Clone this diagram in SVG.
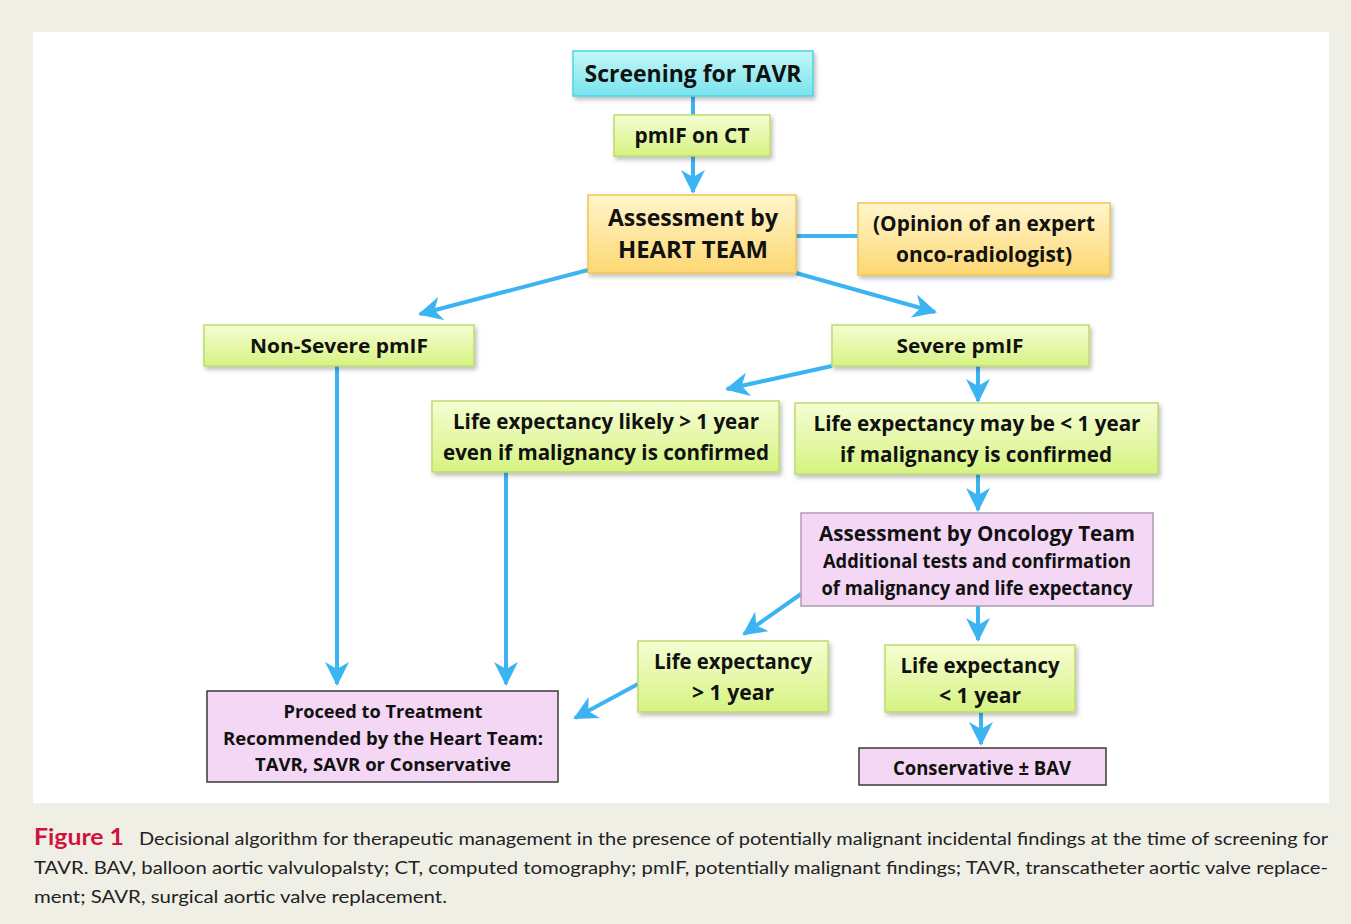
<svg xmlns="http://www.w3.org/2000/svg" width="1351" height="924" viewBox="0 0 1351 924">
<defs>
<linearGradient id="gCyan" x1="0" y1="0" x2="0" y2="1"><stop offset="0" stop-color="#c4f7f8"/><stop offset="1" stop-color="#78e3ec"/></linearGradient>
<linearGradient id="gGreen" x1="0" y1="0" x2="0" y2="1"><stop offset="0" stop-color="#f6fdd2"/><stop offset="1" stop-color="#d6f382"/></linearGradient>
<linearGradient id="gYellow" x1="0" y1="0" x2="0" y2="1"><stop offset="0" stop-color="#fff5cc"/><stop offset="1" stop-color="#fdd873"/></linearGradient>
<filter id="sh" x="-10%" y="-10%" width="125%" height="135%"><feDropShadow dx="2" dy="3" stdDeviation="2" flood-color="#000" flood-opacity="0.25"/></filter>
<marker id="ah" viewBox="0 0 12 12" refX="11" refY="6" markerWidth="6" markerHeight="6" orient="auto" markerUnits="strokeWidth"><path d="M0,0 L12,6 L0,12 L3.5,6 z" fill="#3db4f2"/></marker>
<style>
.t{font-family:"Open Sans","Liberation Sans",sans-serif;font-weight:700;fill:#111;text-anchor:middle}
.cy{fill:url(#gCyan);stroke:#4fd3e3;stroke-width:1.5}
.gr{fill:url(#gGreen);stroke:#bcdc6e;stroke-width:1.5}
.ye{fill:url(#gYellow);stroke:#f2c452;stroke-width:1.5}
.pk{fill:#f4d7f5;stroke:#b19ab3;stroke-width:1.5}
.pkd{fill:#f4d7f5;stroke:#3a3a3a;stroke-width:1.5}
.c{stroke:#3db4f2;stroke-width:4;fill:none}
.ca{font-family:"Lato","Open Sans",sans-serif;font-size:18px;fill:#222}
</style>
</defs>
<rect x="0" y="0" width="1351" height="924" fill="#f0efe6"/>
<rect x="33" y="32" width="1296" height="771" fill="#ffffff"/>

<g id="connectors">
<line class="c" x1="693" y1="96" x2="693" y2="115"/>
<line class="c" x1="693" y1="156" x2="693" y2="192" marker-end="url(#ah)"/>
<line class="c" x1="796" y1="236" x2="858" y2="236"/>
<line class="c" x1="588" y1="270" x2="420" y2="314" marker-end="url(#ah)"/>
<line class="c" x1="796" y1="273" x2="935" y2="312" marker-end="url(#ah)"/>
<line class="c" x1="337" y1="366" x2="337" y2="684" marker-end="url(#ah)"/>
<line class="c" x1="832" y1="366" x2="727" y2="389" marker-end="url(#ah)"/>
<line class="c" x1="978" y1="366" x2="978" y2="401" marker-end="url(#ah)"/>
<line class="c" x1="506" y1="472" x2="506" y2="684" marker-end="url(#ah)"/>
<line class="c" x1="978" y1="474" x2="978" y2="510" marker-end="url(#ah)"/>
<line class="c" x1="801" y1="594" x2="744" y2="634" marker-end="url(#ah)"/>
<line class="c" x1="978" y1="606" x2="978" y2="640" marker-end="url(#ah)"/>
<line class="c" x1="638" y1="684" x2="575" y2="718" marker-end="url(#ah)"/>
<line class="c" x1="981" y1="712" x2="981" y2="744" marker-end="url(#ah)"/>
</g>

<g id="n-screening"><rect class="cy" x="573" y="51" width="240" height="45" filter="url(#sh)"/><text class="t" x="693" y="82" font-size="23" textLength="217" lengthAdjust="spacingAndGlyphs">Screening for TAVR</text></g>
<g id="n-pmif"><rect class="gr" x="614" y="115" width="156" height="41" filter="url(#sh)"/><text class="t" x="692" y="143" font-size="21" textLength="115" lengthAdjust="spacingAndGlyphs">pmIF on CT</text></g>
<g id="n-heart"><rect class="ye" x="588" y="195" width="208" height="78" filter="url(#sh)"/><text class="t" x="693" y="226" font-size="23" textLength="170" lengthAdjust="spacingAndGlyphs">Assessment by</text><text class="t" x="693" y="258" font-size="23" textLength="150" lengthAdjust="spacingAndGlyphs">HEART TEAM</text></g>
<g id="n-opinion"><rect class="ye" x="858" y="203" width="252" height="72" filter="url(#sh)"/><text class="t" x="984" y="231" font-size="21" textLength="222" lengthAdjust="spacingAndGlyphs">(Opinion of an expert</text><text class="t" x="984" y="262" font-size="21" textLength="176" lengthAdjust="spacingAndGlyphs">onco-radiologist)</text></g>
<g id="n-nonsevere"><rect class="gr" x="204" y="325" width="270" height="41" filter="url(#sh)"/><text class="t" x="339" y="353" font-size="20" textLength="178" lengthAdjust="spacingAndGlyphs">Non-Severe pmIF</text></g>
<g id="n-severe"><rect class="gr" x="832" y="325" width="257" height="41" filter="url(#sh)"/><text class="t" x="960" y="353" font-size="20" textLength="127" lengthAdjust="spacingAndGlyphs">Severe pmIF</text></g>
<g id="n-likely"><rect class="gr" x="432" y="401" width="347" height="71" filter="url(#sh)"/><text class="t" x="606" y="429" font-size="21" textLength="306" lengthAdjust="spacingAndGlyphs">Life expectancy likely &gt; 1 year</text><text class="t" x="606" y="460" font-size="21" textLength="326" lengthAdjust="spacingAndGlyphs">even if malignancy is confirmed</text></g>
<g id="n-maybe"><rect class="gr" x="795" y="403" width="363" height="71" filter="url(#sh)"/><text class="t" x="977" y="431" font-size="21" textLength="327" lengthAdjust="spacingAndGlyphs">Life expectancy may be &lt; 1 year</text><text class="t" x="976" y="462" font-size="21" textLength="272" lengthAdjust="spacingAndGlyphs">if malignancy is confirmed</text></g>
<g id="n-oncology"><rect class="pk" x="801" y="513" width="352" height="93"/><text class="t" x="977" y="541" font-size="21" textLength="316" lengthAdjust="spacingAndGlyphs">Assessment by Oncology Team</text><text class="t" x="977" y="568" font-size="19" textLength="308" lengthAdjust="spacingAndGlyphs">Additional tests and confirmation</text><text class="t" x="977" y="595" font-size="19" textLength="311" lengthAdjust="spacingAndGlyphs">of malignancy and life expectancy</text></g>
<g id="n-gt1"><rect class="gr" x="638" y="641" width="190" height="71" filter="url(#sh)"/><text class="t" x="733" y="669" font-size="21" textLength="158" lengthAdjust="spacingAndGlyphs">Life expectancy</text><text class="t" x="733" y="700" font-size="21" textLength="82" lengthAdjust="spacingAndGlyphs">&gt; 1 year</text></g>
<g id="n-lt1"><rect class="gr" x="885" y="645" width="190" height="67" filter="url(#sh)"/><text class="t" x="980" y="673" font-size="21" textLength="159" lengthAdjust="spacingAndGlyphs">Life expectancy</text><text class="t" x="980" y="703" font-size="21" textLength="82" lengthAdjust="spacingAndGlyphs">&lt; 1 year</text></g>
<g id="n-proceed"><rect class="pkd" x="207" y="691" width="351" height="91"/><text class="t" x="383" y="718" font-size="18" textLength="199" lengthAdjust="spacingAndGlyphs">Proceed to Treatment</text><text class="t" x="383" y="745" font-size="18" textLength="320" lengthAdjust="spacingAndGlyphs">Recommended by the Heart Team:</text><text class="t" x="383" y="771" font-size="18" textLength="256" lengthAdjust="spacingAndGlyphs">TAVR, SAVR or Conservative</text></g>
<g id="n-conservative"><rect class="pkd" x="859" y="748" width="247" height="37"/><text class="t" x="982" y="775" font-size="19" textLength="178" lengthAdjust="spacingAndGlyphs">Conservative ± BAV</text></g>

<g id="caption">
<text x="34" y="845" font-family="Lato,'Open Sans',sans-serif" font-weight="700" font-size="23" fill="#d1123f" textLength="90" lengthAdjust="spacingAndGlyphs">Figure 1</text>
<text class="ca" x="139" y="845" textLength="1189" lengthAdjust="spacingAndGlyphs">Decisional algorithm for therapeutic management in the presence of potentially malignant incidental findings at the time of screening for</text>
<text class="ca" x="34" y="874" textLength="1294" lengthAdjust="spacingAndGlyphs">TAVR. BAV, balloon aortic valvulopalsty; CT, computed tomography; pmIF, potentially malignant findings; TAVR, transcatheter aortic valve replace-</text>
<text class="ca" x="34" y="903" textLength="413" lengthAdjust="spacingAndGlyphs">ment; SAVR, surgical aortic valve replacement.</text>
</g>
</svg>
